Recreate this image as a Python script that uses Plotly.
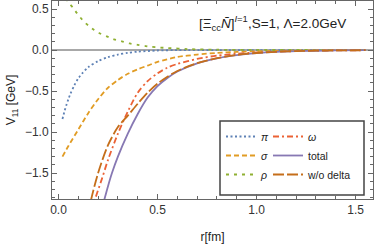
import plotly.graph_objects as go

# ---- data ----
r_pi = [0.02, 0.03, 0.04, 0.05, 0.06, 0.08, 0.10, 0.12, 0.15, 0.20, 0.25, 0.30, 0.35, 0.40, 0.50, 0.60, 0.80, 1.00, 1.30, 1.55]
v_pi = [-0.84, -0.75, -0.67, -0.60, -0.535, -0.43, -0.345, -0.285, -0.21, -0.135, -0.087, -0.055, -0.034, -0.02, -0.006, -0.001, 0.0, 0.0, 0.0, 0.0]

r_sigma = [0.02, 0.05, 0.10, 0.15, 0.20, 0.25, 0.30, 0.35, 0.40, 0.45, 0.50, 0.60, 0.70, 0.80, 0.90, 1.00, 1.20, 1.40, 1.55]
v_sigma = [-1.30, -1.17, -0.97, -0.77, -0.60, -0.46, -0.365, -0.29, -0.235, -0.19, -0.145, -0.085, -0.056, -0.035, -0.023, -0.015, -0.006, -0.002, -0.001]

r_rho = [0.02, 0.048, 0.072, 0.093, 0.12, 0.15, 0.18, 0.21, 0.25, 0.28, 0.32, 0.36, 0.40, 0.44, 0.47, 0.55, 0.65, 0.80, 1.00, 1.30, 1.55]
v_rho = [0.72, 0.59, 0.52, 0.45, 0.37, 0.30, 0.245, 0.202, 0.16, 0.13, 0.106, 0.08, 0.063, 0.048, 0.038, 0.025, 0.012, 0.004, 0.001, 0.0, 0.0]

r_omega = [0.17, 0.186, 0.22, 0.25, 0.30, 0.35, 0.40, 0.45, 0.50, 0.55, 0.60, 0.70, 0.80, 0.90, 1.00, 1.10, 1.20, 1.30, 1.40, 1.55]
v_omega = [-1.95, -1.81, -1.565, -1.34, -1.02, -0.75, -0.52, -0.38, -0.285, -0.215, -0.17, -0.108, -0.068, -0.045, -0.030, -0.020, -0.013, -0.008, -0.005, -0.002]

r_total = [0.22, 0.233, 0.25, 0.27, 0.30, 0.35, 0.40, 0.45, 0.50, 0.55, 0.60, 0.70, 0.80, 0.90, 1.00, 1.10, 1.20, 1.30, 1.40, 1.55]
v_total = [-1.93, -1.81, -1.66, -1.50, -1.30, -1.02, -0.78, -0.58, -0.44, -0.34, -0.262, -0.162, -0.101, -0.062, -0.038, -0.023, -0.014, -0.009, -0.005, -0.002]

r_wod = [0.15, 0.166, 0.20, 0.25, 0.30, 0.35, 0.40, 0.45, 0.50, 0.55, 0.60, 0.70, 0.80, 0.90, 1.00, 1.10, 1.20, 1.30, 1.40, 1.55]
v_wod = [-2.0, -1.81, -1.50, -1.16, -0.94, -0.80, -0.655, -0.52, -0.41, -0.325, -0.255, -0.16, -0.100, -0.060, -0.036, -0.022, -0.013, -0.008, -0.005, -0.002]

x_ticks = [0.0, 0.5, 1.0, 1.5]
y_ticks = [0.5, 0.0, -0.5, -1.0, -1.5]

names = ["<i>π</i>", "<i>σ</i>", "<i>ρ</i>", "<i>ω</i>", "total", "w/o delta"]
colors = ["#5E81B5", "#E19C24", "#8FB032", "#EB6235", "#8778B3", "#C56E1A"]
dashes = ["2px,2.5px", "5px,3px", "3px,5px", "6px,3px,2px,3px", "solid", "11px,3px"]
legends = ["legend", "legend", "legend", "legend2", "legend2", "legend2"]
series = [(r_pi, v_pi), (r_sigma, v_sigma), (r_rho, v_rho),
          (r_omega, v_omega), (r_total, v_total), (r_wod, v_wod)]

W, H = 374, 245
ML, MR, MT, MB = 52, 1, 1, 46
PW, PH = W - ML - MR, H - MT - MB


def px(x):
    return (x - ML) / PW


def py(y):
    return (H - MB - y) / PH


fig = go.Figure()
for i, ((xs, ys), nm, c, d, lg) in enumerate(zip(series, names, colors, dashes, legends)):
    fig.add_trace(go.Scatter(
        x=xs, y=ys, mode="lines", name=nm,
        line=dict(color=c, width=1.8, dash=d, shape="spline", smoothing=0.8),
        legend=lg, legendgroup=str(i)))

axis_common = dict(
    showline=True, linecolor="#666", linewidth=1, mirror="ticks",
    ticks="inside", ticklen=5, tickcolor="#666", tickwidth=1,
    showgrid=False, automargin=False,
    tickfont=dict(family="Liberation Sans, Arial", size=12, color="#333"),
    minor=dict(ticks="inside", ticklen=3, tickcolor="#666", dtick=0.1, showgrid=False),
)

fig.update_xaxes(range=[-0.0328, 1.588], tickvals=x_ticks, tickformat=".1f",
                 zeroline=False,
                 title=dict(text="r[fm]", standoff=16,
                            font=dict(family="Liberation Sans, Arial", size=12, color="#222")),
                 **axis_common)
fig.update_yaxes(range=[-1.817, 0.598], tickvals=y_ticks, tickformat=".1f",
                 zeroline=True, zerolinecolor="#a8a8a8", zerolinewidth=1.5,
                 title=dict(text="V<sub>11</sub> [GeV]", standoff=6,
                            font=dict(family="Liberation Sans, Arial", size=12, color="#222")),
                 **axis_common)

leg_common = dict(bgcolor="rgba(0,0,0,0)", borderwidth=0, xanchor="left", yanchor="top",
                  font=dict(family="Liberation Sans, Arial", size=10.5, color="#222"),
                  tracegroupgap=1, itemwidth=30, traceorder="normal")
fig.update_layout(
    width=W, height=H,
    margin=dict(l=ML, r=MR, t=MT, b=MB),
    paper_bgcolor="white", plot_bgcolor="white",
    showlegend=True,
    legend=dict(x=px(221), y=py(122), **leg_common),
    legend2=dict(x=px(268), y=py(122), **leg_common),
)

# legend frame
fig.add_shape(type="rect", xref="paper", yref="paper",
              x0=px(220), x1=px(364), y0=py(195), y1=py(121),
              line=dict(color="#444", width=1.5), fillcolor="white", layer="below")

fig.add_annotation(
    text="[Ξ<sub>cc</sub><i>N̄</i>]<sup><i>I</i>=1</sup>,S=1, Λ=2.0GeV",
    xref="paper", yref="paper", x=px(272), y=py(23), xanchor="center", yanchor="middle",
    showarrow=False, font=dict(family="Liberation Sans, Arial", size=13.5, color="#222"))

fig.write_html("out.html", config={"displayModeBar": False},
               post_script="document.body.style.margin='0';document.body.style.overflow='hidden';")
